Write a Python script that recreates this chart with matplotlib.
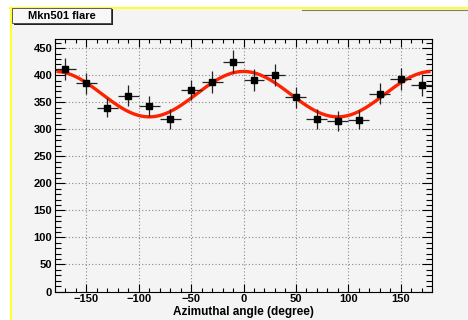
import numpy as np
import matplotlib.pyplot as plt
from matplotlib.lines import Line2D
from matplotlib.patches import Rectangle
from matplotlib.ticker import MultipleLocator

plt.rcParams['font.family'] = ['Liberation Sans', 'DejaVu Sans']
plt.rcParams['font.weight'] = 'bold'

# azimuthal bins (degree) and counts
angle = [-170, -150, -130, -110, -90, -70, -50, -30, -10,
         10, 30, 50, 70, 90, 110, 130, 150, 170]
counts = [412, 385, 340, 362, 343, 319, 373, 388, 425,
          391, 400, 359, 319, 315, 318, 366, 393, 382]
count_err = [20, 20, 18, 19, 18, 18, 19, 20, 21,
             20, 20, 19, 18, 18, 18, 19, 20, 20]
bin_halfwidth = 10

# fit: p0 + p1*cos(2*phi)
fit_p0 = 365
fit_p1 = 42
fit_range = (-177, 177)

bg = '#f4f4f4'
fig = plt.figure(figsize=(4.68, 3.20), dpi=100)
fig.patch.set_facecolor('white')

# canvas area (grey) with yellow border
W, H = 468, 320
fig.patches.append(Rectangle((10 / W, 0), 1, 1 - 8 / H, transform=fig.transFigure,
                             facecolor=bg, edgecolor='none', zorder=-5))
fig.lines.append(Line2D([10.5 / W, 10.5 / W], [0, 1 - 8 / H], transform=fig.transFigure,
                        color='#ffff30', lw=1.5))
fig.lines.append(Line2D([10 / W, 1], [1 - 8.3 / H, 1 - 8.3 / H], transform=fig.transFigure,
                        color='#ffff30', lw=1.5))
fig.lines.append(Line2D([302 / W, 1], [1 - 9.8 / H, 1 - 9.8 / H], transform=fig.transFigure,
                        color='#808060', lw=0.8))

ax = fig.add_axes([55 / W, 28.5 / H, 377 / W, 252.5 / H])
ax.set_facecolor(bg)

phi = np.linspace(fit_range[0], fit_range[1], 400)
ax.plot(phi, fit_p0 + fit_p1 * np.cos(np.deg2rad(2 * phi)), color='#ff2200', lw=2.4, zorder=2)
ax.errorbar(angle, counts, xerr=bin_halfwidth, yerr=count_err, fmt='s', color='black',
            ecolor='#222222', ms=4.8, elinewidth=0.9, capsize=0, zorder=3)

ax.set_xlim(-180, 180)
ax.set_ylim(0, 467)
ax.xaxis.set_major_locator(MultipleLocator(50))
ax.xaxis.set_minor_locator(MultipleLocator(10))
ax.yaxis.set_major_locator(MultipleLocator(50))
ax.yaxis.set_minor_locator(MultipleLocator(10))
ax.tick_params(which='both', direction='in', top=True, right=True, width=0.8,
               labelsize=8, pad=2)
ax.tick_params(axis='x', which='major', length=5.5)
ax.tick_params(axis='x', which='minor', length=3)
ax.tick_params(axis='y', which='major', length=7)
ax.tick_params(axis='y', which='minor', length=4)
for lab in ax.get_xticklabels() + ax.get_yticklabels():
    lab.set_fontweight('bold')
ax.grid(True, which='major', linestyle=(0, (1, 2)), color='#888888', lw=0.8)
for s in ax.spines.values():
    s.set_linewidth(0.8)

ax.set_xlabel('Azimuthal angle (degree)', fontsize=8.5, fontweight='bold', labelpad=1)

# title box with shadow on right and bottom
fig.patches.append(Rectangle((14 / W, 1 - 24.8 / H), 98.5 / W, 16 / H, transform=fig.transFigure,
                             facecolor='#222222', edgecolor='none', zorder=1))
fig.patches.append(Rectangle((12.3 / W, 1 - 23.3 / H), 98.2 / W, 15.3 / H, transform=fig.transFigure,
                             facecolor='#f8f8f8', edgecolor='#444444', lw=0.6, zorder=2))
fig.text(61.5 / W, 1 - 15.8 / H, 'Mkn501 flare', ha='center', va='center',
         fontsize=8, fontweight='bold', zorder=3)

fig.savefig('out.png', dpi=100, facecolor=fig.get_facecolor())
